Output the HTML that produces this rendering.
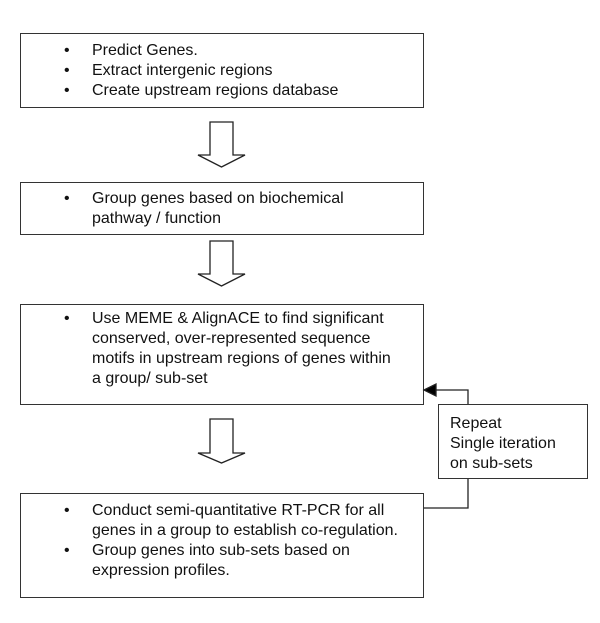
<!DOCTYPE html>
<html><head><style>
body{margin:0;width:600px;height:623px;background:#fff;position:relative;font-family:"Liberation Sans",Arial,sans-serif;font-size:16px;color:#111;overflow:hidden}
.box{position:absolute;border:1.5px solid #333;box-sizing:border-box}
.t{position:absolute;left:92px;line-height:20px;white-space:nowrap}
.b{position:absolute;left:64px;line-height:20px}
</style></head><body>
<div class="box" style="left:20px;top:33px;width:404px;height:75px"></div>
<div class="b" style="top:41px">•<br>•<br>•</div>
<div class="t" style="top:41px">Predict Genes.<br>Extract intergenic regions<br>Create upstream regions database</div>

<div class="box" style="left:20px;top:182px;width:404px;height:53px"></div>
<div class="b" style="top:189px">•</div>
<div class="t" style="top:189px">Group genes based on biochemical<br>pathway / function</div>

<div class="box" style="left:20px;top:304px;width:404px;height:101px"></div>
<div class="b" style="top:309px">•</div>
<div class="t" style="top:309px">Use MEME &amp; AlignACE to find significant<br>conserved, over-represented sequence<br>motifs in upstream regions of genes within<br>a group/ sub-set</div>

<div class="box" style="left:20px;top:493px;width:404px;height:105px"></div>
<div class="b" style="top:501px">•<br><br>•</div>
<div class="t" style="top:501px">Conduct semi-quantitative RT-PCR for all<br>genes in a group to establish co-regulation.<br>Group genes into sub-sets based on<br>expression profiles.</div>

<div class="box" style="left:438px;top:404px;width:150px;height:75px"></div>
<div class="t" style="left:450px;top:414px">Repeat<br>Single iteration<br>on sub-sets</div>

<svg width="600" height="623" style="position:absolute;left:0;top:0" fill="none" stroke="#222" stroke-width="1.3">
<polygon points="210,122 233,122 233,155 245,155 221.5,167 198,155 210,155" fill="#fff"/>
<polygon points="210,241 233,241 233,274 245,274 221.5,286 198,274 210,274" fill="#fff"/>
<polygon points="210,419 233,419 233,453 245,453 221.5,463 198,453 210,453" fill="#fff"/>
<polyline points="434,390 468,390 468,404"/>
<polygon points="424,390 436,384 436,396" fill="#000"/>
<polyline points="468,479 468,508 424,508"/>
</svg>
</body></html>
